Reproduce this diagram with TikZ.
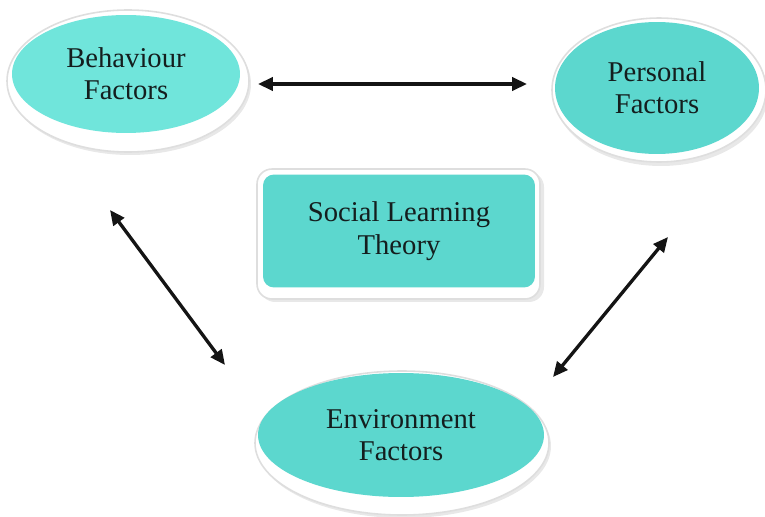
\documentclass[tikz,border=0pt]{standalone}
\usepackage{fontspec}
\setmainfont{Liberation Serif}
\usepackage{tikz}
\usetikzlibrary{shapes,positioning}
\pgfdeclarelayer{background}
\pgfdeclarelayer{foreground}
\pgfsetlayers{background,main,foreground}
\usetikzlibrary{calc}
\usetikzlibrary{arrows,arrows.meta}
\usepackage{xcolor}
\definecolor{tealA}{RGB}{112,229,219}
\definecolor{tealB}{RGB}{92,215,206}
\definecolor{textdark}{RGB}{20,30,30}

\begin{document}
\begin{tikzpicture}[x=0.02cm,y=-0.02cm,font=\fontsize{16.3}{18.4}\selectfont,line cap=round,line join=round,>={Triangle[length=8.5pt,width=7.5pt]},
  factor/.style={ellipse,inner sep=0pt,align=center,text=textdark},
  theory/.style={rectangle,rounded corners=0.22cm,inner sep=0pt,align=center,text=textdark,fill=tealB},
  rim/.style={fill=white,draw=black!13,line width=0.9pt},
  shade/.style={fill=black!9},
  link/.style={<->,line width=1.9pt,black!92}]
\useasboundingbox (0,0) rectangle (765,517);
\clip (0,0) rectangle (765,517);
% the three factors and the theory box
\node[factor,fill=tealA,minimum width=4.56cm,minimum height=2.36cm] (beh) at (126,74) {Behaviour\\Factors};
\node[factor,fill=tealB,minimum width=4.08cm,minimum height=2.64cm] (per) at (657,88) {Personal\\Factors};
\node[theory,minimum width=5.44cm,minimum height=2.26cm] (slt) at (399,231) {Social Learning\\Theory};
\node[factor,fill=tealB,minimum width=5.72cm,minimum height=2.48cm] (env) at (401,435) {Environment\\Factors};
% white rims under the shapes
\begin{pgfonlayer}{background}
\fill[shade] ([shift={(4,10)}]beh.center) ellipse [x radius=121, y radius=71];
\filldraw[rim] ([shift={(2,7)}]beh.center) ellipse [x radius=121, y radius=71];
\fill[shade] ([shift={(4,6)}]per.center) ellipse [x radius=107, y radius=72];
\filldraw[rim] ([shift={(2,2)}]per.center) ellipse [x radius=107, y radius=72];
\fill[shade,rounded corners=0.3cm] ($(slt.center)+(-139,-59)$) rectangle ($(slt.center)+(145,71)$);
\filldraw[rim,rounded corners=0.3cm] ($(slt.center)+(-142,-62)$) rectangle ($(slt.center)+(141,68)$);
\fill[shade] ([shift={(3,11)}]env.center) ellipse [x radius=147, y radius=72];
\filldraw[rim] ([shift={(1,8)}]env.center) ellipse [x radius=147, y radius=72];
\end{pgfonlayer}
% arrows between the factors
\draw[link] ([shift={(132,10)}]beh.center) -- ([shift={(-130,-4)}]per.center);
\draw[link] ([shift={(-16,136)}]beh.center) -- ([shift={(-176,-70)}]env.center);
\draw[link] ([shift={(11,149)}]per.center) -- ([shift={(152,-58)}]env.center);
\end{tikzpicture}
\end{document}
